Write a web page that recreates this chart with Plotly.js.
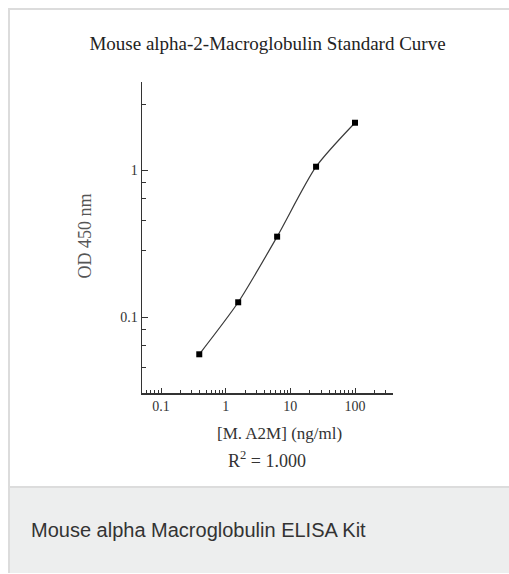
<!DOCTYPE html>
<html>
<head>
<meta charset="utf-8">
<script src="https://cdn.plot.ly/plotly-3.0.1.min.js"></script>
<style>
  html, body { margin: 0; padding: 0; width: 509px; height: 574px; overflow: hidden; background: #ffffff; }
  #card { position: absolute; left: 8px; top: 8px; width: 540px; height: 565px; box-sizing: border-box;
          border-left: 2px solid #dcdcdc; border-top: 2px solid #dcdcdc; background: #ffffff; }
  #foot { position: absolute; left: 10px; top: 486px; width: 540px; height: 87px; box-sizing: border-box;
          border-top: 2px solid #dcdcdc; background: #edeeee; }
  #chart { position: absolute; left: 0; top: 0; width: 509px; height: 574px; }
</style>
</head>
<body>
<div id="card"></div>
<div id="foot"></div>
<div id="chart"></div>
<script>
// Data (standard curve points)
var concentrations = [0.390625, 1.5625, 6.25, 25, 100];
var odValues = [0.0557, 0.126, 0.353, 1.058, 2.11];

// Tick labels / positions
var xTickVals = [0.1, 1, 10, 100];
var xTickText = ['0.1', '1', '10', '100'];
var xMinorTicks = [0.06, 0.07, 0.08, 0.09, 0.2, 0.3, 0.4, 0.5, 0.6, 0.7, 0.8, 0.9,
                   2, 3, 4, 5, 6, 7, 8, 9, 20, 30, 40, 50, 60, 70, 80, 90, 200, 300];
var yTickVals = [0.1, 1];
var yTickText = ['0.1', '1'];
var yMinorTicks = [0.0456, 0.0644, 0.0823, 0.282, 0.456, 0.644, 0.823, 2.82];

var chartTitle = 'Mouse alpha-2-Macroglobulin Standard Curve';
var xTitle = '[M. A2M] (ng/ml)';
var yTitle = 'OD 450 nm';
var fitText = 'R<sup>2</sup> = 1.000';
var caption = 'Mouse alpha Macroglobulin ELISA Kit';

var W = 509, H = 574;
var L = 142, R = 393, T = 82, B = 393;
function px(x) { return (x - L) / (R - L); }
function py(y) { return (B - y) / (B - T); }

var serif = 'Liberation Serif, Times New Roman, serif';

var trace = {
  x: concentrations,
  y: odValues,
  type: 'scatter',
  mode: 'lines+markers',
  line: { color: '#3a3a3a', width: 1.2, shape: 'spline', smoothing: 0.7 },
  marker: { symbol: 'square', size: 6, color: '#000000' },
  hoverinfo: 'skip'
};

var layout = {
  width: W, height: H,
  margin: { l: L, r: W - R, t: T, b: H - B, pad: 0 },
  paper_bgcolor: 'rgba(0,0,0,0)',
  plot_bgcolor: 'rgba(0,0,0,0)',
  showlegend: false,
  font: { family: serif, color: '#333333', size: 14 },
  title: {
    text: chartTitle,
    font: { family: serif, size: 19, color: '#222222' },
    xref: 'container', yref: 'container',
    x: 267.5 / W, xanchor: 'center',
    y: 1 - 43 / H, yanchor: 'middle'
  },
  xaxis: {
    type: 'log',
    range: [-1.2938, 2.5876],
    showgrid: false, zeroline: false,
    showline: true, linecolor: '#333333', linewidth: 1.5,
    ticks: 'inside', ticklen: 5, tickwidth: 1, tickcolor: '#333333',
    tickmode: 'array', tickvals: xTickVals, ticktext: xTickText,
    tickfont: { family: serif, size: 14, color: '#333333' },
    minor: { tickmode: 'array', tickvals: xMinorTicks, ticks: 'inside', ticklen: 3, tickwidth: 1, tickcolor: '#333333', showgrid: false },
    fixedrange: true
  },
  yaxis: {
    type: 'log',
    range: [-1.518, 0.6019],
    showgrid: false, zeroline: false,
    showline: true, linecolor: '#333333', linewidth: 1.5,
    ticks: 'inside', ticklen: 6, tickwidth: 1, tickcolor: '#333333',
    tickmode: 'array', tickvals: yTickVals, ticktext: yTickText,
    tickfont: { family: serif, size: 14, color: '#333333' },
    minor: { tickmode: 'array', tickvals: yMinorTicks, ticks: 'inside', ticklen: 4, tickwidth: 1, tickcolor: '#333333', showgrid: false },
    fixedrange: true
  },
  annotations: [
    { text: xTitle, xref: 'paper', yref: 'paper', x: px(279.3), y: py(433),
      xanchor: 'center', yanchor: 'middle', showarrow: false,
      font: { family: serif, size: 17, color: '#333333' } },
    { text: fitText, xref: 'paper', yref: 'paper', x: px(267), y: py(459),
      xanchor: 'center', yanchor: 'middle', showarrow: false,
      font: { family: serif, size: 18, color: '#333333' } },
    { text: yTitle, xref: 'paper', yref: 'paper', x: px(84), y: py(236.5),
      xanchor: 'center', yanchor: 'middle', showarrow: false, textangle: -90,
      font: { family: serif, size: 18, color: '#555555' } },
    { text: caption, xref: 'paper', yref: 'paper', x: px(29), y: py(530),
      xanchor: 'left', yanchor: 'middle', showarrow: false,
      font: { family: 'Liberation Sans, Arial, sans-serif', size: 20, color: '#333333' } }
  ]
};

Plotly.newPlot('chart', [trace], layout, { displayModeBar: false, staticPlot: true });
</script>
</body>
</html>
